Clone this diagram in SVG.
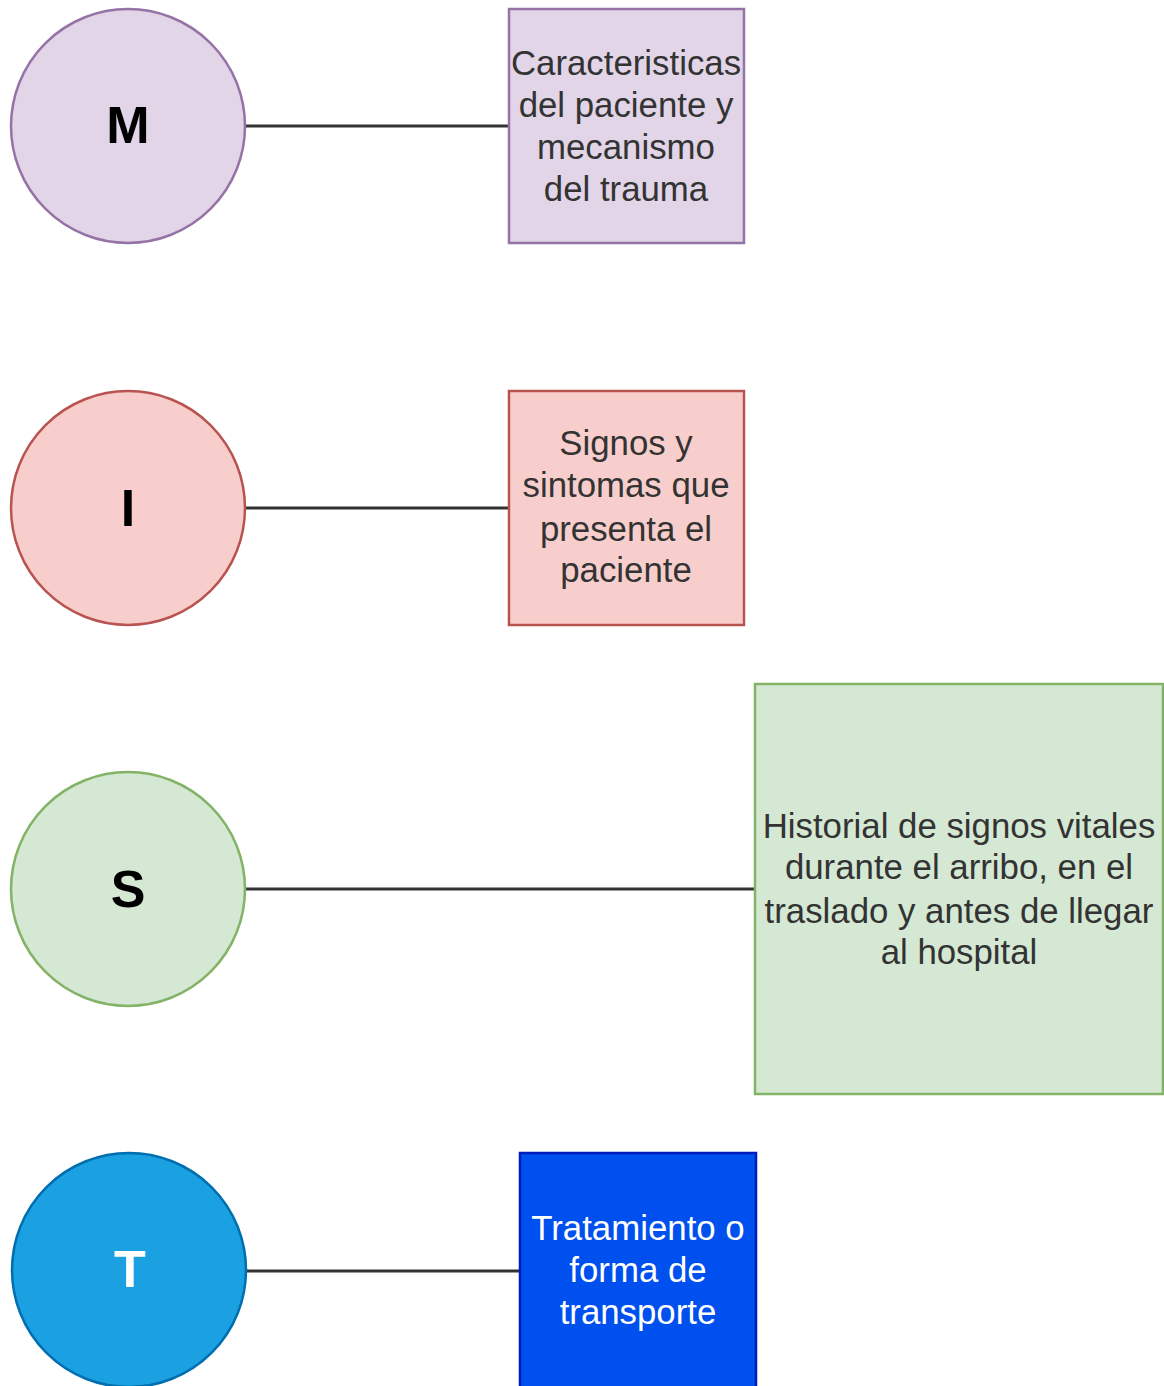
<svg xmlns="http://www.w3.org/2000/svg" width="1164" height="1386" viewBox="0 0 1164 1386">
  <style>
    .lbl { font-family: "Liberation Sans", Arial, sans-serif; font-size: 34.8px; fill: #333333; text-anchor: middle; }
    .big { font-family: "Liberation Sans", Arial, sans-serif; font-size: 52px; font-weight: bold; fill: #000000; text-anchor: middle; }
    .edge { stroke: #333333; stroke-width: 3; fill: none; }
    .purple { fill: #e1d5e7; stroke: #9673a6; stroke-width: 2.5; }
    .red { fill: #f8cecc; stroke: #b85450; stroke-width: 2.5; }
    .green { fill: #d5e8d4; stroke: #82b366; stroke-width: 2.5; }
    .cyan { fill: #1ba1e2; stroke: #006eaf; stroke-width: 2.5; }
    .blue { fill: #0050ef; stroke: #001dbc; stroke-width: 2.5; }
  </style>
  <rect width="1164" height="1386" fill="#ffffff"/>

  <g id="connectors">
    <line class="edge" x1="246" y1="126" x2="509" y2="126"/>
    <line class="edge" x1="246" y1="508" x2="509" y2="508"/>
    <line class="edge" x1="246" y1="889" x2="755" y2="889"/>
    <line class="edge" x1="246" y1="1271" x2="520" y2="1271"/>
  </g>

  <g id="node-m">
    <circle class="purple" cx="128" cy="126" r="117"/>
    <text class="big" x="128" y="143">M</text>
  </g>
  <g id="box-m">
    <rect class="purple" x="509" y="9" width="235" height="234"/>
    <text class="lbl" x="626" y="75">Caracteristicas</text>
    <text class="lbl" x="626" y="117">del paciente y</text>
    <text class="lbl" x="626" y="159">mecanismo</text>
    <text class="lbl" x="626" y="201">del trauma</text>
  </g>

  <g id="node-i">
    <circle class="red" cx="128" cy="508" r="117"/>
    <text class="big" x="128" y="526">I</text>
  </g>
  <g id="box-i">
    <rect class="red" x="509" y="391" width="235" height="234"/>
    <text class="lbl" x="626" y="455">Signos y</text>
    <text class="lbl" x="626" y="497">sintomas que</text>
    <text class="lbl" x="626" y="541">presenta el</text>
    <text class="lbl" x="626" y="582">paciente</text>
  </g>

  <g id="node-s">
    <circle class="green" cx="128" cy="889" r="117"/>
    <text class="big" x="128" y="907">S</text>
  </g>
  <g id="box-s">
    <rect class="green" x="755" y="684" width="408" height="410"/>
    <text class="lbl" x="959" y="838">Historial de signos vitales</text>
    <text class="lbl" x="959" y="879">durante el arribo, en el</text>
    <text class="lbl" x="959" y="923">traslado y antes de llegar</text>
    <text class="lbl" x="959" y="964">al hospital</text>
  </g>

  <g id="node-t">
    <circle class="cyan" cx="129" cy="1270" r="117"/>
    <text class="big" x="130" y="1287" style="fill:#ffffff">T</text>
  </g>
  <g id="box-t">
    <rect class="blue" x="520" y="1153" width="236" height="240"/>
    <text class="lbl" x="638" y="1240" style="fill:#ffffff">Tratamiento o</text>
    <text class="lbl" x="638" y="1282" style="fill:#ffffff">forma de</text>
    <text class="lbl" x="638" y="1324" style="fill:#ffffff">transporte</text>
  </g>
</svg>
